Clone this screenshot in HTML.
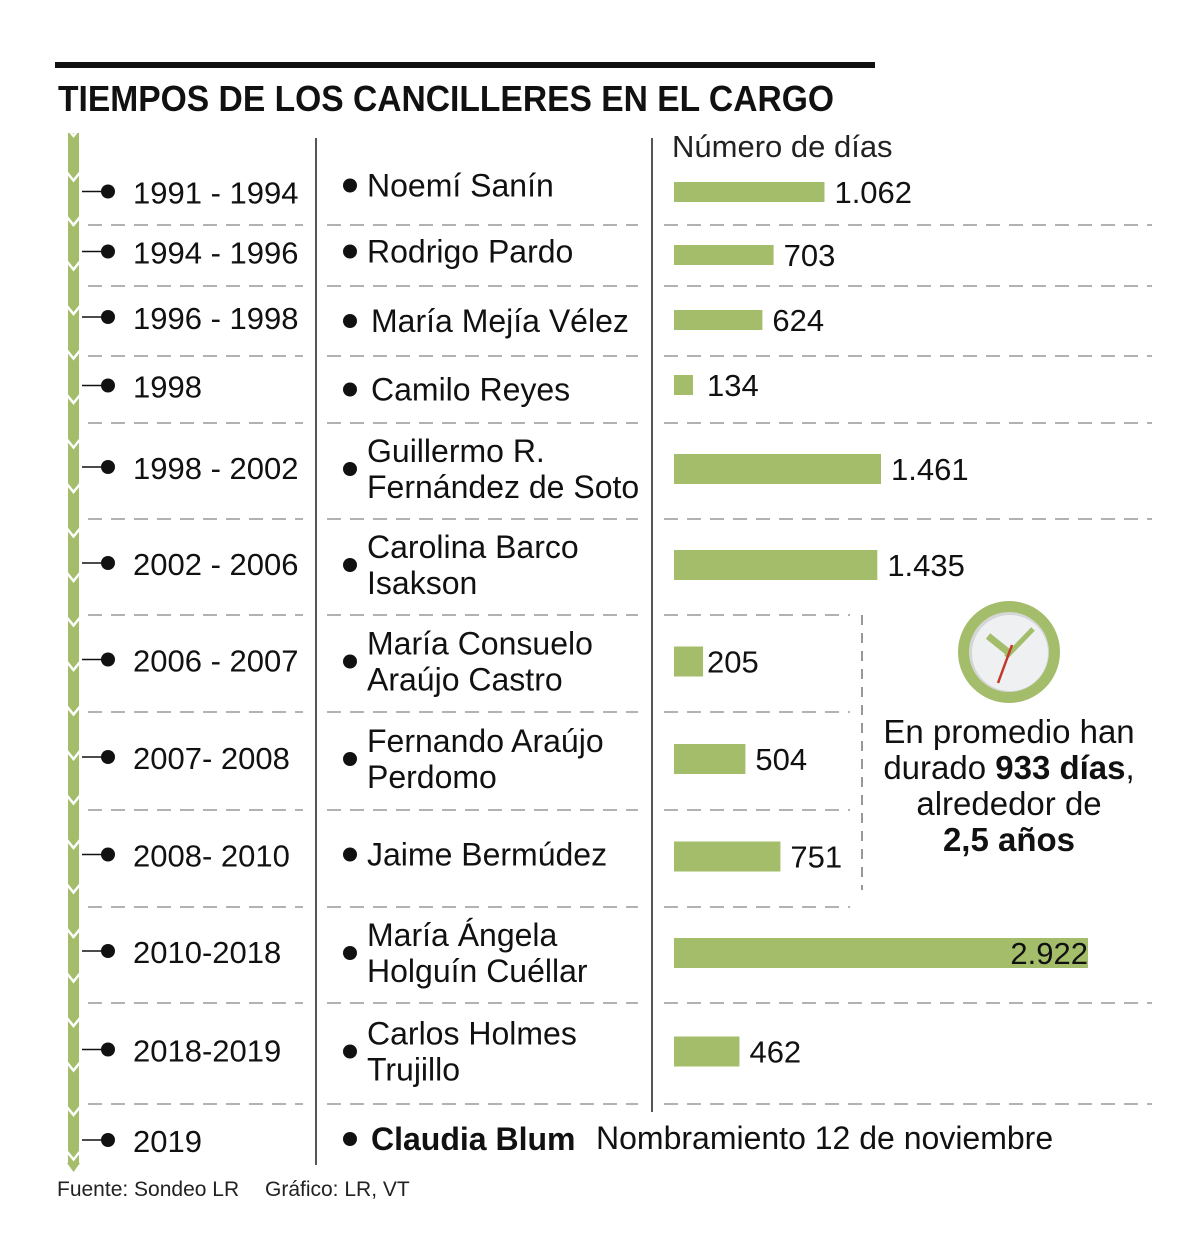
<!DOCTYPE html>
<html><head><meta charset="utf-8"><style>
html,body{margin:0;padding:0;background:#fff;}
svg{display:block;font-family:"Liberation Sans",sans-serif;}
</style></head><body>
<svg id="chart" width="1200" height="1256" viewBox="0 0 1200 1256">
<rect x="55" y="62" width="820" height="6" fill="#111"/>
<text x="58" y="111" font-size="36" font-weight="bold" fill="#111" textLength="776" lengthAdjust="spacingAndGlyphs">TIEMPOS DE LOS CANCILLERES EN EL CARGO</text>
<text x="672" y="157" font-size="31" fill="#222">Número de días</text>
<g id="timeline"></g>
<line x1="316" y1="138" x2="316" y2="1165" stroke="#555" stroke-width="2"/>
<line x1="652" y1="138" x2="652" y2="1112" stroke="#555" stroke-width="2"/>
<line x1="862" y1="615" x2="862" y2="890" stroke="#777" stroke-width="1.5" stroke-dasharray="10,8"/>
<g id="seps"></g>
<g id="rows"></g>
<g id="bars"></g>
<g>
<circle cx="1009" cy="652" r="51" fill="#a3bd6a"/>
<circle cx="1009" cy="652" r="40" fill="#d5d6d8"/>
<circle cx="1010" cy="653" r="38" fill="#eff0f2"/>
<line x1="988" y1="636" x2="1008" y2="652" stroke="#a3bd6a" stroke-width="7"/>
<line x1="1006" y1="657" x2="1033" y2="629" stroke="#a3bd6a" stroke-width="5"/>
<line x1="1012" y1="645" x2="998" y2="683" stroke="#c0392b" stroke-width="2.5"/>
</g>
<g font-size="33" fill="#111" text-anchor="middle">
<text x="1009" y="743">En promedio han</text>
<text x="1009" y="779">durado <tspan font-weight="bold">933 días</tspan>,</text>
<text x="1009" y="815">alrededor de</text>
<text x="1009" y="851" font-weight="bold">2,5 años</text>
</g>
<g>
<line x1="82" y1="1140" x2="102" y2="1140" stroke="#111" stroke-width="1.5"/>
<circle cx="108" cy="1140" r="7" fill="#111"/>
<text x="133" y="1152" font-size="31" fill="#111">2019</text>
<circle cx="350" cy="1139" r="7" fill="#111"/>
<text x="371" y="1150" font-size="32" font-weight="bold" fill="#111">Claudia Blum</text>
<text x="596" y="1149" font-size="32" fill="#111">Nombramiento 12 de noviembre</text>
</g>
<text x="57" y="1196" font-size="21" fill="#222">Fuente: Sondeo LR</text>
<text x="265" y="1196" font-size="21" fill="#222">Gráfico: LR, VT</text>
</svg>
<script>
const periods=["1991 - 1994","1994 - 1996","1996 - 1998","1998","1998 - 2002","2002 - 2006","2006 - 2007","2007- 2008","2008- 2010","2010-2018","2018-2019"];
const names=[["Noemí Sanín"],["Rodrigo Pardo"],["María Mejía Vélez"],["Camilo Reyes"],["Guillermo R.","Fernández de Soto"],["Carolina Barco","Isakson"],["María Consuelo","Araújo Castro"],["Fernando Araújo","Perdomo"],["Jaime Bermúdez"],["María Ángela","Holguín Cuéllar"],["Carlos Holmes","Trujillo"]];
const days=[1062,703,624,134,1461,1435,205,504,751,2922,462];
const dayLabels=["1.062","703","624","134","1.461","1.435","205","504","751","2.922","462"];
const NS="http://www.w3.org/2000/svg";
const rowTop=[138,225,286,356,423,519,615,712,810,907,1003];
const rowBot=[225,286,356,423,519,615,712,810,907,1003,1104];
const x0=674, xScale=v=>v*(414/2922);
function mk(tag,attrs,parent){const e=document.createElementNS(NS,tag);for(const k in attrs)e.setAttribute(k,attrs[k]);parent.appendChild(e);return e;}
const tl=document.getElementById('timeline');
mk('rect',{x:68,y:133,width:11,height:1030,fill:'#a3bd6a'},tl);
for(let y=133;y<1170;y+=44.5){mk('polyline',{points:`67,${y-5} 73.5,${y+3} 80,${y-5}`,fill:'none',stroke:'#fff','stroke-width':2.5},tl);}
mk('polygon',{points:'67,1163 80,1163 73.5,1172',fill:'#a3bd6a'},tl);
const seps=document.getElementById('seps');
rowBot.forEach((y,i)=>{
  const a={y1:y,y2:y,stroke:'#999','stroke-width':1.5,'stroke-dasharray':'14,9'};
  let l=mk('line',Object.assign({x1:88,x2:303},a),seps);
  
  
  l=mk('line',Object.assign({x1:327,x2:638},a),seps);
  
  
  const short=(i>=5&&i<=8);
  l=mk('line',Object.assign({x1:664,x2:short?850:1152},a),seps);
  
  
});
const rows=document.getElementById('rows'), bars=document.getElementById('bars');
periods.forEach((p,i)=>{
  const cy=(rowTop[i]+rowBot[i])/2+(i===0?18:4);
  const g=mk('g',{},rows);
  
  
  mk('line',{x1:82,y1:cy-8,x2:102,y2:cy-8,stroke:'#111','stroke-width':1.5},g);
  mk('circle',{cx:108,cy:cy-8,r:7,fill:'#111'},g);
  const t=mk('text',{x:133,y:cy+4,'font-size':31,fill:'#111'},g);t.textContent=p;
  const nm=names[i];
  const dotY=nm.length>1?cy-6:cy-8+(i===0?-6:0)+((i===2||i===3)?4:0);
  mk('circle',{cx:350,cy:dotY,r:7,fill:'#111'},g);
  const nx=(i===2||i===3)?371:367;
  if(nm.length===1){const n=mk('text',{x:nx,y:dotY+11,'font-size':32,fill:'#111'},g);n.textContent=nm[0];}
  else{nm.forEach((s,k)=>{const n=mk('text',{x:367,y:dotY-7+k*36,'font-size':32,fill:'#111'},g);n.textContent=s;});}
  const h=i<4?20:30;
  const by=i<4?[182,245,310,375][i]:cy-6-h/2;
  const w=xScale(days[i]);
  const b=mk('rect',{x:x0,y:by,width:w,height:h,fill:'#a3bd6a'},bars);
  
  
  const inside=days[i]>2500;
  const off=i===6?4:(i===3?14:10);
  const lt=mk('text',{x:inside?x0+w:x0+w+off,y:by+h/2+11,'font-size':31,fill:'#111','text-anchor':inside?'end':'start'},bars);
  lt.textContent=dayLabels[i];
  
  
});
</script>
</body></html>
